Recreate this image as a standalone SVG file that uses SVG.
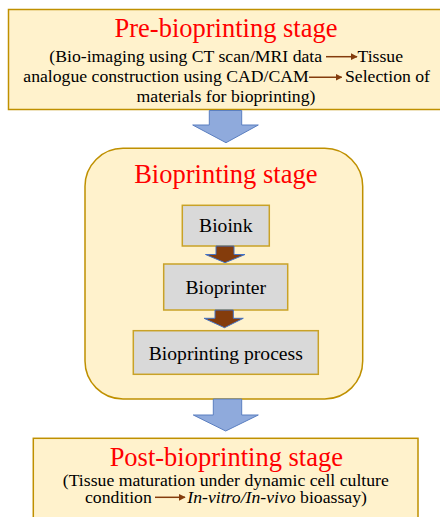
<svg xmlns="http://www.w3.org/2000/svg" width="440" height="517" viewBox="0 0 440 517" font-family="'Liberation Serif', 'DejaVu Serif', serif">
<style>
.stage{fill:#FFF2CC;stroke:#BF9000;stroke-width:1.5}
.node{fill:#D9D9D9;stroke:#C9A227;stroke-width:1.5}
.title{font-size:26.5px;fill:#FF0000;text-anchor:middle}
.body{font-size:17.7px;fill:#000}
.lbl{font-size:19.6px;fill:#000;text-anchor:middle}
.big{fill:#8FAADC;stroke:#5B7FC0;stroke-width:1}
.small{fill:#843C0C;stroke:#4472C4;stroke-width:1}
.inl{stroke:#843C0C;stroke-width:1.5;fill:none}
</style>
<defs>
<marker id="ah" viewBox="0 0 10 10" refX="9" refY="5" markerWidth="4.5" markerHeight="4.5" orient="auto">
<path d="M0,0 L10,5 L0,10 z" fill="#843C0C"/>
</marker>
</defs>
<rect width="440" height="517" fill="#FFFFFF"/>

<g id="pre">
<rect class="stage" x="8.5" y="9.5" width="440" height="100"/>
<text class="title" x="226" y="36.7">Pre-bioprinting stage</text>
<text class="body" x="49.3" y="61.5">(Bio-imaging using CT scan/MRI data</text>
<text class="body" x="357.5" y="61.5">Tissue</text>
<text class="body" x="23.3" y="81.7">analogue construction using CAD/CAM</text>
<text class="body" x="345" y="81.7">Selection of</text>
<text class="body" x="226" y="101.7" text-anchor="middle">materials for bioprinting)</text>
<line class="inl" x1="326" y1="56.7" x2="357" y2="56.7" marker-end="url(#ah)"/>
<line class="inl" x1="309" y1="77.3" x2="341.7" y2="77.3" marker-end="url(#ah)"/>
</g>

<g id="bioprinting">
<rect class="stage" x="85" y="148.3" width="277.7" height="250.7" rx="38" ry="38"/>
<text class="title" x="225.8" y="183.3">Bioprinting stage</text>
</g>

<g id="bioink">
<rect class="node" x="182.3" y="205.3" width="87" height="40.7"/>
<text class="lbl" x="225.8" y="232.3">Bioink</text>
</g>

<g id="bioprinter">
<rect class="node" x="163.7" y="264" width="124" height="46"/>
<text class="lbl" x="225.8" y="294">Bioprinter</text>
</g>

<g id="process">
<rect class="node" x="133.3" y="330.7" width="185" height="43.6"/>
<text class="lbl" x="225.8" y="360">Bioprinting process</text>
</g>

<g id="post">
<rect class="stage" x="33.3" y="438.3" width="384.7" height="90"/>
<text class="title" x="226.3" y="466">Post-bioprinting stage</text>
<text class="body" x="225.8" y="485.7" text-anchor="middle">(Tissue maturation under dynamic cell culture</text>
<text class="body" x="85" y="502.7">condition</text>
<text class="body" x="187.3" y="502.7"><tspan font-style="italic">In-vitro/In-vivo</tspan> bioassay)</text>
<line class="inl" x1="155" y1="497.3" x2="185" y2="497.3" marker-end="url(#ah)"/>
</g>

<g id="connectors">
<path class="big" d="M209.3,110.5 L241.7,110.5 L241.7,125 L258.3,125 L226,142.7 L192.7,125 L209.3,125 Z"/>
<path class="small" d="M216,246 L234,246 L234,254.5 L245,254.5 L225,262.7 L205.5,254.5 L216,254.5 Z"/>
<path class="small" d="M215,310 L233.3,310 L233.3,318.3 L243.3,318.3 L224.5,327.7 L204,318.3 L215,318.3 Z"/>
<path class="big" d="M213.3,399 L241.7,399 L241.7,415 L258.3,415 L225.7,431 L193.3,415 L213.3,415 Z"/>
</g>
</svg>
